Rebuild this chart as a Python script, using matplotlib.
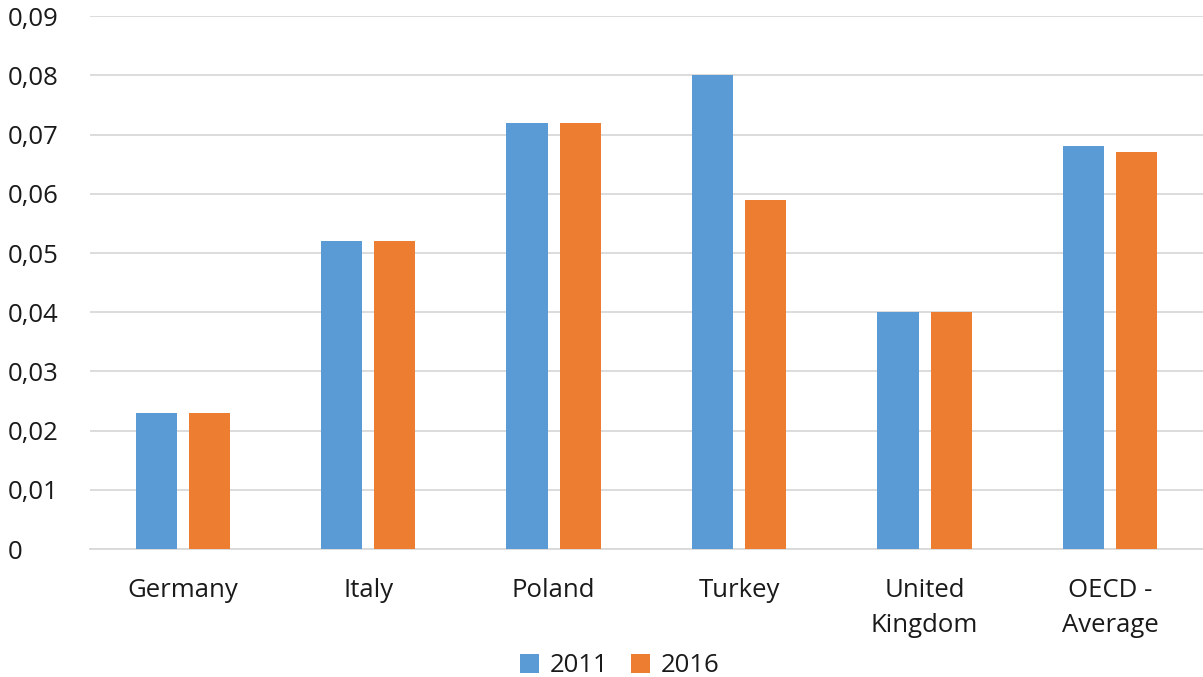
import matplotlib
matplotlib.use("Agg")
import matplotlib.pyplot as plt
import numpy as np
from matplotlib.ticker import FuncFormatter

categories = ["Germany", "Italy", "Poland", "Turkey", "United\nKingdom", "OECD -\nAverage"]
values_2011 = [0.023, 0.052, 0.072, 0.080, 0.040, 0.068]
values_2016 = [0.023, 0.052, 0.072, 0.059, 0.040, 0.067]
y_ticks = [0.00, 0.01, 0.02, 0.03, 0.04, 0.05, 0.06, 0.07, 0.08, 0.09]

plt.rcParams['font.family'] = ['Open Sans', 'DejaVu Sans']
FS = 18.5
TXT = "#1a1a1a"

fig = plt.figure(figsize=(12.03, 6.77), dpi=100)
ax = fig.add_axes([0.0748, 0.189, 0.925, 0.787])

x = np.arange(len(categories))
w = 0.222
gap = 0.065
ax.bar(x - (w + gap) / 2, values_2011, width=w, color="#5B9BD5", label="2011", zorder=3)
ax.bar(x + (w + gap) / 2, values_2016, width=w, color="#ED7D31", label="2016", zorder=3)

ax.set_xlim(-0.5, len(categories) - 0.5)
ax.set_ylim(0, 0.09)
ax.set_yticks(y_ticks)

def fmt(v, pos):
    if abs(v) < 1e-12:
        return "0"
    return f"{v:.2f}".replace(".", ",")

ax.yaxis.set_major_formatter(FuncFormatter(fmt))
ax.set_xticks(x)
ax.set_xticklabels(categories, fontsize=FS, color=TXT, linespacing=1.5)
ax.tick_params(axis="y", labelsize=FS, colors=TXT, length=0, pad=59)
ax.tick_params(axis="x", length=0, pad=21)
for lbl in ax.get_yticklabels():
    lbl.set_horizontalalignment("left")

ax.grid(axis="y", color="#D9D9D9", linewidth=1.3, zorder=0)
for s in ["top", "right", "left"]:
    ax.spines[s].set_visible(False)
ax.spines["bottom"].set_color("#D9D9D9")
ax.spines["bottom"].set_linewidth(1.3)

fig.legend(loc="lower center", bbox_to_anchor=(0.515, -0.036), ncol=2, frameon=False,
           fontsize=FS, handlelength=0.75, handleheight=0.75, columnspacing=0.9,
           handletextpad=0.4, labelcolor=TXT)

fig.savefig("out.png", dpi=100)
